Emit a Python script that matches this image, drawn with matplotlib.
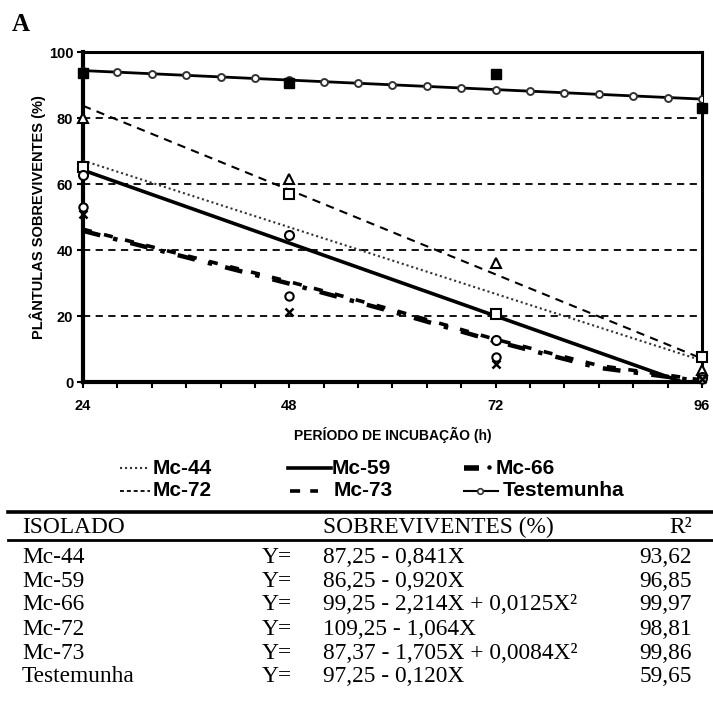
import numpy as np
import matplotlib
matplotlib.use("Agg")
import matplotlib.pyplot as plt
from matplotlib.lines import Line2D

W, H = 713, 705

# fitted curves (hours -> % surviving seedlings)
hours_fit = [24, 48, 72, 96]
mc44_fit = [67.1, 46.9, 26.7, 6.5]
mc59_fit = [64.2, 42.1, 20.0, -2.1]
mc72_fit = [83.7, 58.2, 32.6, 7.1]

hours_curve = [24, 36, 48, 60, 72, 84, 96]
mc66_fit = [45.8, 37.8, 29.8, 21.3, 12.3, 4.3, 0.2]
mc73_fit = [46.3, 38.3, 30.4, 21.9, 12.9, 5.0, 0.6]

hours_ctrl = [24, 28, 32, 36, 40, 44, 48, 52, 56, 60, 64, 68, 72, 76, 80, 84, 88, 92, 96]
ctrl_fit = [94.37, 93.89, 93.41, 92.93, 92.45, 91.97, 91.49, 91.01, 90.53, 90.05,
            89.57, 89.09, 88.61, 88.13, 87.65, 87.17, 86.69, 86.21, 85.73]

# observed means
hours_obs = [24, 48, 72, 96]
mc44_obs = [65.2, 57.0, 20.5, 7.7]
mc59_obs = [62.7, 44.5, 12.7, 1.5]
mc66_obs = [53.0, 26.0, 7.5, 1.0]
mc72_obs = [80.0, 61.5, 36.0, 3.5]
mc73_obs = [51.0, 21.3, 5.5, 0.8]
ctrl_obs = [93.5, 90.5, 93.2, 83.0]

y_ticks = [0, 20, 40, 60, 80, 100]
x_ticks = [24, 48, 72, 96]

table_rows = [
    ("Mc-44", "87,25 - 0,841X", "93,62"),
    ("Mc-59", "86,25 - 0,920X", "96,85"),
    ("Mc-66", "99,25 - 2,214X + 0,0125X²", "99,97"),
    ("Mc-72", "109,25 - 1,064X", "98,81"),
    ("Mc-73", "87,37 - 1,705X + 0,0084X²", "99,86"),
    ("Testemunha", "97,25 - 0,120X", "59,65"),
]

sans = "Liberation Sans"
serif = "Liberation Serif"

fig = plt.figure(figsize=(W / 100, H / 100), dpi=100)


def fx(x):
    return x / W


def fy(y):
    return 1 - y / H


ax_l, ax_r, ax_t, ax_b = 83, 702, 52, 382
ax = fig.add_axes([fx(ax_l), fy(ax_b), (ax_r - ax_l) / W, (ax_b - ax_t) / H])
ax.set_xlim(24, 96)
ax.set_ylim(0, 100)

for g in [20, 40, 60, 80]:
    ax.axhline(g, color="black", lw=1.3, linestyle=(0, (4, 3)), zorder=1)

k = "black"
dot_style = dict(color="#333333", lw=1.5, linestyle=(0, (1, 1.4)))
dash72_style = dict(color=k, lw=1.5, linestyle=(0, (4, 3)))
solid_style = dict(color=k, lw=2.6)
dash66_style = dict(color=k, lw=3.2, linestyle=(0, (4, 3, 1, 3)))
dash73_style = dict(color=k, lw=2.6, linestyle=(0, (2.5, 3.5)))

ax.plot(hours_fit, mc44_fit, zorder=3, **dot_style)
ax.plot(hours_fit, mc59_fit, zorder=3, **solid_style)
ax.plot(hours_fit, mc72_fit, zorder=3, **dash72_style)
ax.plot(hours_curve, mc66_fit, zorder=3, **dash66_style)
ax.plot(hours_curve, mc73_fit, zorder=3, **dash73_style)
ax.plot(hours_ctrl, ctrl_fit, color=k, lw=2.0, marker="o", ms=5, mfc="white",
        mec="#333333", mew=1.4, zorder=4)

mk = dict(linestyle="none", zorder=5, clip_on=False)
ax.plot(hours_obs, ctrl_obs, marker="s", ms=7, color=k, **mk)
ax.plot(hours_obs, mc72_obs, marker="^", ms=7, mfc="white", mec=k, mew=1.5, **mk)
ax.plot(hours_obs, mc44_obs, marker="s", ms=6.5, mfc="white", mec=k, mew=1.5, **mk)
ax.plot(hours_obs, mc59_obs, marker="o", ms=6.5, mfc="white", mec=k, mew=1.5, **mk)
ax.plot(hours_obs, mc66_obs, marker="o", ms=6, mfc="white", mec=k, mew=1.5, **mk)
ax.plot(hours_obs, mc73_obs, marker="x", ms=6, mec=k, mew=1.8, **mk)

for s in ["left", "bottom"]:
    ax.spines[s].set_linewidth(3)
for s in ["top", "right"]:
    ax.spines[s].set_linewidth(2.2)

ax.set_yticks(y_ticks)
ax.set_xticks(x_ticks)
ax.set_xticks(np.arange(24, 97, 4), minor=True)
ax.tick_params(axis="both", which="both", direction="out", length=4, width=1.5,
               labelsize=10.5, pad=3)
ax.tick_params(axis="x", which="major", pad=8)
for lab in ax.get_xticklabels() + ax.get_yticklabels():
    lab.set_fontfamily(sans)
    lab.set_fontweight("bold")

ax.set_ylabel("PLÂNTULAS SOBREVIVENTES (%)", fontfamily=sans, fontweight="bold",
              fontsize=10.5, labelpad=2)
ax.set_xlabel("PERÍODO DE INCUBAÇÃO (h)", fontfamily=sans, fontweight="bold",
              fontsize=10, labelpad=10)

fig.text(fx(12), fy(31), "A", fontfamily=serif, fontweight="bold", fontsize=18,
         ha="left", va="baseline")

# legend, drawn as figure-level artists
leg_fs = 15
row1, row2 = 468, 491


def leg_line(x0, x1, y, **kw):
    fig.add_artist(Line2D([fx(x0), fx(x1)], [fy(y), fy(y)], **kw))


def leg_text(x, y, s):
    fig.text(fx(x), fy(y), s, fontfamily=sans, fontweight="bold", fontsize=leg_fs,
             ha="left", va="center")


leg_line(120, 150, row1, **dot_style)
leg_text(153, row1, "Mc-44")
leg_line(120, 150, row2, color=k, lw=1.3, linestyle=(0, (2.2, 1.6)))
leg_text(153, row2, "Mc-72")

leg_line(288, 331, row1, **solid_style)
leg_text(332, row1, "Mc-59")
leg_line(290, 318, row2, color=k, lw=2.6, linestyle=(0, (2.8, 2.8)))
leg_text(334, row2, "Mc-73")

leg_line(464, 479, row1, color=k, lw=4, solid_capstyle="butt")
fig.add_artist(Line2D([fx(489)], [fy(row1 - 1)], color=k, marker="o", ms=2.2,
                      linestyle="none"))
leg_text(496, row1, "Mc-66")
leg_line(464, 498, row2, color=k, lw=1.5)
fig.add_artist(Line2D([fx(480)], [fy(row2)], marker="o", ms=4, mfc="white",
                      mec="#333333", mew=1.2, linestyle="none"))
leg_text(503, row2, "Testemunha")

# regression table
for y0, lw in [(512, 2.6), (540, 2.0)]:
    fig.add_artist(Line2D([fx(8), fx(713)], [fy(y0), fy(y0)], color=k, lw=lw))

tfs = 16.8
tkw = dict(fontfamily=serif, fontsize=tfs, va="baseline")
fig.text(fx(22), fy(533), "ISOLADO", **tkw)
fig.text(fx(323), fy(533), "SOBREVIVENTES (%)", **tkw)
fig.text(fx(692), fy(533), "R²", ha="right", **tkw)

row_base = [563, 587, 610, 635, 659, 682]
for (name, eq, r2), yy in zip(table_rows, row_base):
    fig.text(fx(22), fy(yy), name, **tkw)
    fig.text(fx(262), fy(yy), "Y=", **tkw)
    fig.text(fx(323), fy(yy), eq, **tkw)
    fig.text(fx(692), fy(yy), r2, ha="right", **tkw)

fig.savefig("out.png", dpi=100)
